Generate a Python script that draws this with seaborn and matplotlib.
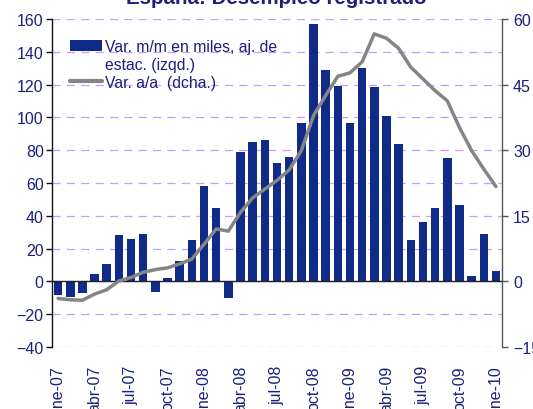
import numpy as np
import pandas as pd
import matplotlib
matplotlib.use("Agg")
import matplotlib.pyplot as plt
import seaborn as sns
from matplotlib.lines import Line2D
from matplotlib.patches import Patch

# --- datos ---
months = ["ene-07", "feb-07", "mar-07", "abr-07", "may-07", "jun-07",
          "jul-07", "ago-07", "sep-07", "oct-07", "nov-07", "dic-07",
          "ene-08", "feb-08", "mar-08", "abr-08", "may-08", "jun-08",
          "jul-08", "ago-08", "sep-08", "oct-08", "nov-08", "dic-08",
          "ene-09", "feb-09", "mar-09", "abr-09", "may-09", "jun-09",
          "jul-09", "ago-09", "sep-09", "oct-09", "nov-09", "dic-09",
          "ene-10"]
# variación mensual en miles (eje izq.)
var_mm = [-8.3, -9.5, -7.3, 4.8, 10.9, 28.5, 26.0, 29.0, -6.5, 2.0, 12.2, 25.4,
          58.0, 45.0, -10.0, 78.6, 84.8, 86.0, 72.0, 75.6, 96.3, 156.7, 128.7, 118.9,
          96.3, 129.9, 118.3, 100.6, 84.0, 25.2, 36.2, 44.7, 75.0, 46.3, 3.2, 28.7,
          6.1]
# variación interanual % (eje dcho.)
var_aa = [-3.9, -4.2, -4.3, -2.9, -1.9, 0.1, 0.9, 2.1, 2.7, 3.1, 4.0, 5.1,
          8.5, 12.0, 11.5, 15.8, 19.1, 21.1, 23.1, 25.5, 29.9, 37.9, 42.5, 46.9,
          47.7, 50.2, 56.6, 55.6, 53.3, 49.0, 46.3, 43.6, 41.3, 35.2, 29.9, 25.7,
          21.7]
left_ticks = [-40, -20, 0, 20, 40, 60, 80, 100, 120, 140, 160]
right_ticks = [-15, 0, 15, 30, 45, 60]

df = pd.DataFrame({"mes": months, "mm": var_mm, "aa": var_aa})
df["pos"] = np.arange(len(df))

NAVY = "#0f2a87"
TXT = "#1c1f7c"
GRID = "#cc99ff"
GREY = "#858585"

sns.set_style("white")
plt.rcParams["font.family"] = ["Liberation Sans", "DejaVu Sans"]

fig = plt.figure(figsize=(5.33, 4.10), dpi=100)
ax = fig.add_axes([52 / 533, 1 - 348 / 410, 450 / 533, 328 / 410])

sns.barplot(data=df, x="mes", y="mm", color=NAVY, width=0.7, saturation=1,
            edgecolor="none", ax=ax, zorder=2)
ax.set_xlim(-0.5, len(df) - 0.5)
ax.set_ylim(-40, 160)
ax.set_yticks(left_ticks)
ax.yaxis.grid(True, linestyle=(0, (6.5, 5)), color=GRID, linewidth=0.9, zorder=0)
ax.set_axisbelow(True)
ax.set_xlabel("")
ax.set_ylabel("")

# eje x en el cero con marcas cada trimestre
for s in ["top", "right"]:
    ax.spines[s].set_visible(False)
ax.spines["bottom"].set_position(("data", 0))
ax.spines["bottom"].set_color("#222222")
ax.spines["bottom"].set_linewidth(1.0)
ax.spines["left"].set_color("#111111")
ax.spines["left"].set_linewidth(1.0)
ax.set_xticks(np.arange(2.5, len(df) - 1, 3))
ax.set_xticklabels([])
ax.tick_params(axis="x", direction="out", length=4, width=1, color="#222222")
ax.tick_params(axis="y", direction="out", length=4, width=1, color="#111111",
               labelsize=11.5, labelcolor=TXT, pad=2, left=True)

# etiquetas de meses en la parte inferior
sec = ax.secondary_xaxis(0.0)
sec.set_xticks(df["pos"][::3], df["mes"][::3], rotation=90)
sec.tick_params(length=0, pad=13, labelsize=11.5, labelcolor=TXT)
sec.spines["bottom"].set_visible(False)

# eje derecho
ax2 = ax.twinx()
sns.lineplot(data=df, x="pos", y="aa", color=GREY, linewidth=2.5, ax=ax2)
ax2.set_ylim(-15, 60)
ax2.set_yticks(right_ticks)
ax2.set_xlim(-0.5, len(df) - 0.5)
ax2.set_ylabel("")
ax2.set_xlabel("")
for s in ["top", "bottom", "left"]:
    ax2.spines[s].set_visible(False)
ax2.spines["right"].set_color("#555555")
ax2.spines["right"].set_linewidth(1.0)
ax2.tick_params(axis="y", direction="out", length=4, width=1, color="#555555",
                labelsize=11.5, labelcolor=TXT, pad=4, right=True)
ax2.tick_params(axis="x", bottom=False, labelbottom=False)

handles = [Patch(facecolor=NAVY, edgecolor="none"),
           Patch(facecolor="none", edgecolor="none"),
           Line2D([], [], color=GREY, linewidth=3)]
labels = ["Var. m/m en miles, aj. de", "estac. (izqd.)", "Var. a/a  (dcha.)"]
leg = ax2.legend(handles, labels, loc="upper left", bbox_to_anchor=(0.027, 0.958),
                 frameon=False, fontsize=11.3, handlelength=2.0, handleheight=0.65,
                 handletextpad=0.2, labelspacing=0.18, borderaxespad=0)
for t in leg.get_texts():
    t.set_color(TXT)

fig.text(0.519, 1 - 4 / 410, "España: Desempleo registrado", ha="center",
         va="baseline", fontsize=14.8, fontweight="bold", color=TXT)

fig.savefig("out.png", dpi=100)
